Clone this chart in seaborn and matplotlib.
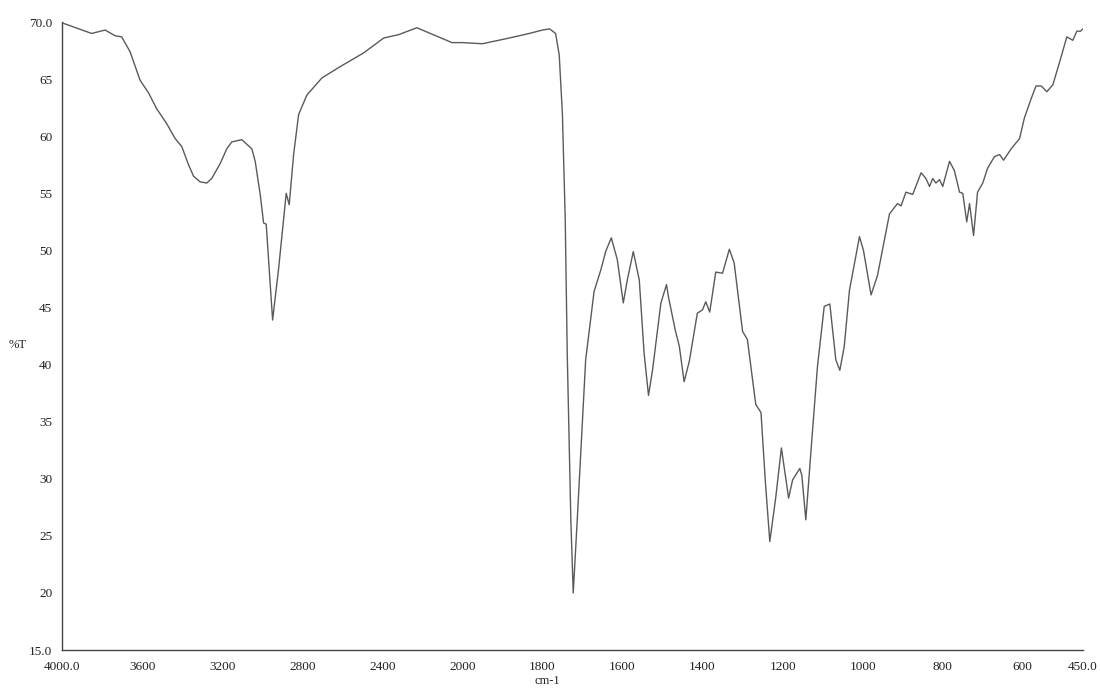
import numpy as np
import pandas as pd
import seaborn as sns
import matplotlib

matplotlib.use("Agg")
import matplotlib.pyplot as plt

# wavenumber (cm-1) and transmittance (%T)
wavenumber = [
    3995, 3852, 3785, 3735, 3702, 3660, 3610, 3568, 3527, 3477,
    3435, 3402, 3368, 3343, 3310, 3277, 3252, 3210, 3177, 3152,
    3102, 3052, 3035, 3010, 2993, 2980, 2948, 2918, 2880, 2865,
    2843, 2818, 2777, 2702, 2610, 2493, 2393, 2318, 2227, 2160,
    2052, 2000, 1950, 1883, 1833, 1800, 1782, 1767, 1758, 1750,
    1743, 1738, 1729, 1723, 1713, 1692, 1671, 1654, 1642, 1628,
    1613, 1598, 1588, 1573, 1558, 1546, 1535, 1525, 1504, 1490,
    1485, 1468, 1458, 1446, 1433, 1413, 1400, 1392, 1382, 1367,
    1350, 1333, 1321, 1300, 1288, 1267, 1254, 1243, 1232, 1217,
    1203, 1185, 1175, 1157, 1152, 1142, 1129, 1113, 1096, 1082,
    1067, 1057, 1046, 1033, 1008, 998, 979, 963, 933, 913,
    904, 892, 875, 854, 842, 833, 825, 817, 808, 800,
    783, 771, 758, 750, 740, 733, 723, 713, 700, 688,
    671, 658, 648, 629, 608, 596, 579, 567, 554, 540,
    525, 508, 490, 475, 465, 456, 450,
]
transmittance = [
    69.9, 69.0, 69.3, 68.8, 68.7, 67.4, 64.9, 63.8, 62.4, 61.1,
    59.8, 59.1, 57.5, 56.5, 56.0, 55.9, 56.3, 57.6, 58.9, 59.5,
    59.7, 58.9, 57.8, 54.9, 52.4, 52.3, 43.9, 48.4, 55.0, 54.0,
    58.4, 61.9, 63.6, 65.1, 66.1, 67.3, 68.6, 68.9, 69.5, 69.0,
    68.2, 68.2, 68.1, 68.6, 69.0, 69.3, 69.4, 69.0, 67.1, 61.9,
    52.7, 41.0, 26.4, 20.0, 26.4, 40.4, 46.4, 48.3, 49.9, 51.1,
    49.2, 45.4, 47.4, 49.9, 47.4, 41.0, 37.3, 39.5, 45.4, 47.0,
    45.9, 43.0, 41.6, 38.5, 40.3, 44.5, 44.8, 45.5, 44.6, 48.1,
    48.0, 50.1, 48.9, 42.9, 42.2, 36.5, 35.8, 29.7, 24.5, 28.4,
    32.7, 28.3, 29.9, 30.9, 30.3, 26.4, 32.5, 39.8, 45.1, 45.3,
    40.4, 39.5, 41.6, 46.5, 51.2, 50.0, 46.1, 47.8, 53.2, 54.1,
    53.9, 55.1, 54.9, 56.8, 56.3, 55.6, 56.3, 55.9, 56.2, 55.6,
    57.8, 57.0, 55.1, 55.0, 52.5, 54.1, 51.3, 55.1, 55.9, 57.2,
    58.2, 58.4, 57.9, 58.9, 59.8, 61.6, 63.3, 64.4, 64.4, 63.9,
    64.5, 66.5, 68.7, 68.4, 69.2, 69.2, 69.4,
]

x_ticks = [4000, 3600, 3200, 2800, 2400, 2000, 1800, 1600, 1400, 1200, 1000, 800, 600, 450]
x_tick_labels = ["4000.0", "3600", "3200", "2800", "2400", "2000", "1800",
                 "1600", "1400", "1200", "1000", "800", "600", "450.0"]
y_ticks = [70, 65, 60, 55, 50, 45, 40, 35, 30, 25, 20, 15]
y_tick_labels = ["70.0", "65", "60", "55", "50", "45", "40", "35", "30", "25", "20", "15.0"]


# instrument chart: the scale doubles below 2000 cm-1
def forward(wn):
    wn = np.asarray(wn, dtype=float)
    return np.where(wn >= 2000, 1550 + (wn - 2000) / 2.0, wn - 450)


def inverse(pos):
    pos = np.asarray(pos, dtype=float)
    return np.where(pos >= 1550, 2000 + (pos - 1550) * 2.0, pos + 450)


sns.set_theme(style="white")
plt.rcParams["font.family"] = ["Liberation Serif", "DejaVu Serif"]

df = pd.DataFrame({"wn": wavenumber, "T": transmittance})

fig = plt.figure(figsize=(11, 6.89), dpi=100)
ax = fig.add_axes([0.0564, 0.0566, 0.928, 0.9114])
sns.lineplot(data=df, x="wn", y="T", sort=False, estimator=None,
             color="#5a5a5a", linewidth=1.0, ax=ax)

ax.set_xscale("function", functions=(forward, inverse))
ax.set_xlim(4000, 450)
ax.set_ylim(15, 70)
ax.set_xticks(x_ticks)
ax.set_xticklabels(x_tick_labels)
ax.set_yticks(y_ticks)
ax.set_yticklabels(y_tick_labels)
ax.minorticks_off()
ax.set_xlabel("")
ax.set_ylabel("")

for side in ("top", "right"):
    ax.spines[side].set_visible(False)
for side in ("left", "bottom"):
    ax.spines[side].set_color("#444444")
    ax.spines[side].set_linewidth(1.0)

ax.tick_params(axis="x", direction="inout", length=6, width=0.9,
               colors="#444444", labelcolor="#222222", labelsize=9.5, pad=5)
ax.tick_params(axis="y", direction="out", length=4, width=0.9,
               colors="#444444", labelcolor="#222222", labelsize=9.5, pad=3)

fig.text(18 / 1100, 1 - 345 / 689, "%T", fontsize=9, ha="center",
         va="center", color="#222222")
fig.text(547 / 1100, 1 - 681 / 689, "cm-1", fontsize=9, ha="center",
         va="center", color="#222222")

fig.savefig("out.png", dpi=100)
